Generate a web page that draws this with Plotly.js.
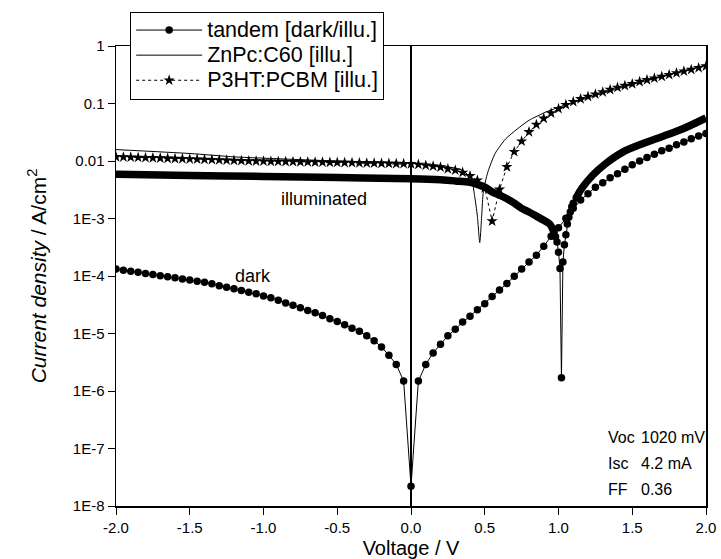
<!DOCTYPE html>
<html><head><meta charset="utf-8">
<script src="https://cdn.plot.ly/plotly-3.0.1.min.js"></script>
<style>html,body{margin:0;padding:0;background:#fff}</style>
</head><body>
<div id="chart" style="width:721px;height:559px"></div>
<script>
// ---- data ----
const darkV = [-2.00,-1.95,-1.90,-1.85,-1.80,-1.75,-1.70,-1.65,-1.60,-1.55,-1.50,-1.45,-1.40,-1.35,-1.30,-1.25,-1.20,-1.15,-1.10,-1.05,-1.00,-0.95,-0.90,-0.85,-0.80,-0.75,-0.70,-0.65,-0.60,-0.55,-0.50,-0.45,-0.40,-0.35,-0.30,-0.25,-0.20,-0.15,-0.10,-0.05,0.00,0.05,0.10,0.15,0.20,0.25,0.30,0.35,0.40,0.45,0.50,0.55,0.60,0.65,0.70,0.75,0.80,0.85,0.90,0.95,1.00,1.05,1.10,1.15,1.20,1.25,1.30,1.35,1.40,1.45,1.50,1.55,1.60,1.65,1.70,1.75,1.80,1.85,1.90,1.95,2.00];
const darkJ = [1.32e-4,1.26e-4,1.21e-4,1.16e-4,1.11e-4,1.06e-4,1.01e-4,9.7e-5,9.3e-5,8.9e-5,8.5e-5,8.1e-5,7.8e-5,7.3e-5,6.8e-5,6.4e-5,6.0e-5,5.6e-5,5.2e-5,4.9e-5,4.5e-5,4.2e-5,3.8e-5,3.4e-5,3.1e-5,2.8e-5,2.5e-5,2.3e-5,2.06e-5,1.8e-5,1.61e-5,1.42e-5,1.24e-5,1.09e-5,9.1e-6,7.5e-6,5.8e-6,4.2e-6,2.9e-6,1.49e-6,2.2e-8,1.49e-6,2.9e-6,4.6e-6,6.5e-6,9.1e-6,1.19e-5,1.58e-5,2.0e-5,2.6e-5,3.3e-5,4.4e-5,5.7e-5,7.4e-5,9.9e-5,1.32e-4,1.76e-4,2.3e-4,3.3e-4,4.9e-4,6.9e-4,1.01e-3,1.50e-3,2.1e-3,2.7e-3,3.5e-3,4.2e-3,5.1e-3,6.0e-3,7.2e-3,8.6e-3,1.0e-2,1.15e-2,1.31e-2,1.50e-2,1.67e-2,1.91e-2,2.13e-2,2.43e-2,2.72e-2,3.0e-2];

// illuminated tandem: flat part (before Voc)
const illuLowV = [-2.0,-1.5,-1.0,-0.5,0.0,0.2,0.3,0.4,0.45,0.5,0.55,0.6,0.65,0.7,0.75,0.8,0.85,0.9,0.94,0.97];
const illuLowJ = [5.9e-3,5.6e-3,5.4e-3,5.15e-3,4.9e-3,4.7e-3,4.5e-3,4.25e-3,3.9e-3,3.5e-3,2.9e-3,2.55e-3,2.2e-3,1.85e-3,1.5e-3,1.3e-3,1.1e-3,9.3e-4,8.0e-4,5.7e-4];
// illuminated tandem: around Voc (resolved points)
const illuDipV = [0.97,0.98,0.99,1.00,1.01,1.02,1.03,1.04,1.05,1.06,1.07,1.08,1.09,1.10,1.12];
const illuDipJ = [5.7e-4,4.8e-4,3.9e-4,2.6e-4,1.35e-4,1.7e-6,1.75e-4,3.5e-4,5.2e-4,8.0e-4,1.05e-3,1.3e-3,1.6e-3,1.85e-3,2.3e-3];
// illuminated tandem: forward part
const illuHighV = [1.12,1.16,1.23,1.32,1.43,1.57,1.71,1.84,2.0];
const illuHighJ = [2.3e-3,3.4e-3,5.6e-3,9.0e-3,1.4e-2,2.0e-2,2.7e-2,3.6e-2,5.6e-2];

const znpcV = [-2.0,-1.5,-1.2,-1.0,-0.5,-0.2,0.0,0.2,0.35,0.41,0.43,0.45,0.466,0.48,0.49,0.52,0.57,0.64,0.72,0.80,0.92,1.05,1.2,1.4,1.6,1.8,2.0];
const znpcJ = [1.58e-2,1.35e-2,1.18e-2,1.12e-2,1.0e-2,9.6e-3,9.2e-3,8.3e-3,6.9e-3,4.8e-3,2.6e-3,1.1e-3,3.8e-4,1.2e-3,2.9e-3,6.3e-3,1.35e-2,2.4e-2,3.6e-2,5.1e-2,7.2e-2,9.5e-2,0.125,0.18,0.25,0.34,0.47];

const p3htV = darkV;
const p3htJ = [1.18e-2,1.17e-2,1.16e-2,1.15e-2,1.14e-2,1.13e-2,1.12e-2,1.11e-2,1.10e-2,1.09e-2,1.08e-2,1.07e-2,1.06e-2,1.05e-2,1.04e-2,1.03e-2,1.02e-2,1.01e-2,1.0e-2,9.95e-3,9.9e-3,9.85e-3,9.8e-3,9.75e-3,9.7e-3,9.65e-3,9.6e-3,9.55e-3,9.5e-3,9.45e-3,9.4e-3,9.35e-3,9.3e-3,9.25e-3,9.2e-3,9.15e-3,9.1e-3,9.05e-3,9.0e-3,8.95e-3,8.9e-3,8.7e-3,8.4e-3,8.1e-3,7.8e-3,7.3e-3,6.9e-3,6.3e-3,5.5e-3,4.6e-3,3.4e-3,9.0e-4,3.2e-3,7.9e-3,1.45e-2,2.2e-2,3.2e-2,4.3e-2,5.5e-2,6.8e-2,8.1e-2,9.5e-2,0.107,0.12,0.132,0.145,0.158,0.174,0.19,0.204,0.219,0.24,0.257,0.275,0.295,0.316,0.339,0.363,0.389,0.417,0.447];

const xTickVals = [-2,-1.5,-1,-0.5,0,0.5,1,1.5,2];
const xTickText = ['-2.0','-1.5','-1.0','-0.5','0.0','0.5','1.0','1.5','2.0'];
const yTickVals = [1,0.1,0.01,1e-3,1e-4,1e-5,1e-6,1e-7,1e-8];
const yTickText = ['1','0.1','0.01','1E-3','1E-4','1E-5','1E-6','1E-7','1E-8'];
const legendNames = ['tandem [dark/illu.]','ZnPc:C60 [illu.]','P3HT:PCBM [illu.]'];

// ---- chart ----
const FONT = 'Liberation Sans, Arial, sans-serif';
const big = s => '<span style="font-size:21.5px">' + s + '</span>';
const minorY = [];
for (let e = -8; e < 0; e++) for (let k = 2; k <= 9; k++) minorY.push(k * Math.pow(10, e));
const minorX = [];
for (let v = -1.75; v < 2; v += 0.5) minorX.push(v);

const traces = [
  {x: darkV, y: darkJ, mode: 'lines+markers', name: big(legendNames[0]), legendgroup: 't',
   line: {color: '#000', width: 1}, marker: {symbol: 'circle', size: 7.5, color: '#000'}},
  {x: illuLowV, y: illuLowJ, mode: 'lines', showlegend: false, legendgroup: 't',
   line: {color: '#000', width: 7.5, shape: 'spline'}},
  {x: illuDipV, y: illuDipJ, mode: 'lines+markers', showlegend: false, legendgroup: 't',
   line: {color: '#000', width: 1}, marker: {symbol: 'circle', size: 7.5, color: '#000'}},
  {x: illuHighV, y: illuHighJ, mode: 'lines', showlegend: false, legendgroup: 't',
   line: {color: '#000', width: 7.5, shape: 'spline'}},
  {x: znpcV, y: znpcJ, mode: 'lines', name: big(legendNames[1]),
   line: {color: '#000', width: 1, shape: 'spline', smoothing: 0.6}},
  {x: p3htV, y: p3htJ, mode: 'lines+markers', name: big(legendNames[2]),
   line: {color: '#000', width: 1, dash: 'dot'}, marker: {symbol: 'star', size: 8.5, color: '#000'}}
];

const ann = (x, J, text, xanchor, size) => ({x: x, y: Math.log10(J), xref: 'x', yref: 'y', text: text,
  showarrow: false, xanchor: xanchor || 'center', font: {family: FONT, size: size || 18, color: '#000'}});

const layout = {
  width: 721, height: 559,
  margin: {l: 116, r: 15, t: 42, b: 53},
  paper_bgcolor: '#fff', plot_bgcolor: '#fff',
  font: {family: FONT, color: '#000'},
  showlegend: true,
  legend: {x: 0.024, y: 1.075, xanchor: 'left', yanchor: 'top', bgcolor: '#fff',
    bordercolor: '#000', borderwidth: 1, font: {family: FONT, size: 17, color: '#000'},
    tracegroupgap: 0, itemwidth: 66},
  xaxis: {range: [-2, 2], tickmode: 'array', tickvals: xTickVals, ticktext: xTickText,
    ticks: 'outside', ticklen: 7, tickwidth: 1, tickcolor: '#000',
    showline: true, linecolor: '#000', linewidth: 1.5, mirror: true,
    showgrid: false, zeroline: true, zerolinecolor: '#000', zerolinewidth: 2,
    tickfont: {family: FONT, size: 15},
    title: {text: 'Voltage / V', font: {family: FONT, size: 20}, standoff: 6}},
  xaxis2: {range: [-2, 2], overlaying: 'x', anchor: 'y', side: 'bottom', tickmode: 'array',
    tickvals: minorX, ticks: 'outside', ticklen: 4, tickwidth: 1, tickcolor: '#000',
    showticklabels: false, showline: false, showgrid: false, zeroline: false},
  yaxis: {type: 'log', range: [-8, 0], tickmode: 'array', tickvals: yTickVals, ticktext: yTickText,
    ticks: 'outside', ticklen: 7, tickwidth: 1, tickcolor: '#000', showline: true, linecolor: '#000',
    linewidth: 1.5, mirror: true, showgrid: false, zeroline: false,
    tickfont: {family: FONT, size: 15},
    title: {text: '<i>Current density</i> / A/cm<sup>2</sup>', font: {family: FONT, size: 21}, standoff: 20}},
  yaxis2: {type: 'log', range: [-8, 0], overlaying: 'y', anchor: 'x', side: 'left', tickmode: 'array',
    tickvals: minorY, ticks: 'inside', ticklen: 4, tickwidth: 1, tickcolor: '#000',
    showticklabels: false, showline: false, showgrid: false, zeroline: false},
  annotations: [
    ann(-0.59, 2.2e-3, 'illuminated'),
    ann(-1.07, 1.0e-4, 'dark'),
    ann(1.32, 1.55e-7, 'Voc', 'left', 16), ann(1.545, 1.55e-7, '1020 mV', 'left', 16),
    ann(1.32, 5.5e-8, 'Isc', 'left', 16), ann(1.545, 5.5e-8, '4.2 mA', 'left', 16),
    ann(1.32, 1.9e-8, 'FF', 'left', 16), ann(1.545, 1.9e-8, '0.36', 'left', 16)
  ]
};

Plotly.newPlot('chart', traces, layout, {displayModeBar: false, staticPlot: true});
</script>
</body></html>
